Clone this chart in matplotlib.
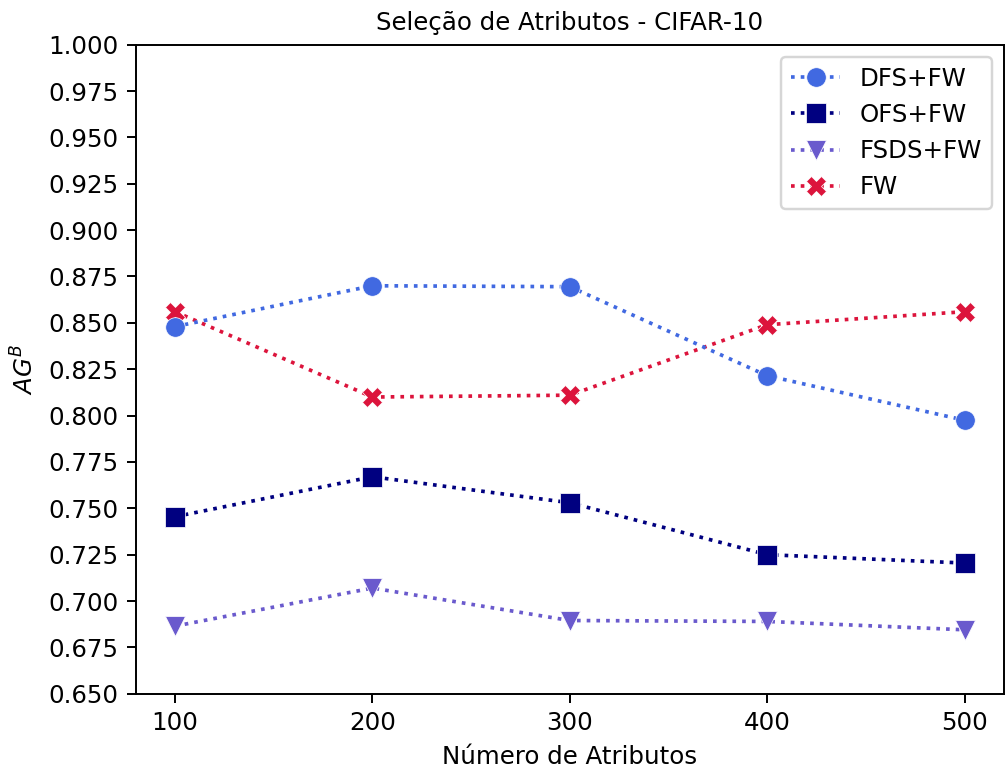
import matplotlib.pyplot as plt

atributos = [100, 200, 300, 400, 500]

dfs_fw = [0.848, 0.870, 0.8695, 0.8215, 0.7975]
ofs_fw = [0.7455, 0.767, 0.753, 0.725, 0.7205]
fsds_fw = [0.6865, 0.707, 0.6895, 0.689, 0.6845]
fw = [0.856, 0.810, 0.811, 0.849, 0.856]

fig = plt.figure(figsize=(1005 / 176, 770 / 176), dpi=176)
ax = fig.add_axes([0.135, 0.099, 0.864, 0.843])

estilo = dict(linestyle=':', lw=1.5, markersize=8, markeredgecolor='white', markeredgewidth=0.3)

# FW fica por baixo dos outros marcadores
ax.plot(atributos, dfs_fw, color='royalblue', marker='o', label='DFS+FW', zorder=4, **estilo)
ax.plot(atributos, ofs_fw, color='navy', marker='s', label='OFS+FW', zorder=4, **estilo)
ax.plot(atributos, fsds_fw, color='slateblue', marker='v', label='FSDS+FW', zorder=4, **estilo)
ax.plot(atributos, fw, color='crimson', marker='X', label='FW', zorder=3, **estilo)

ax.set_ylim(0.65, 1.0)
ax.set_yticks([0.65 + 0.025 * i for i in range(15)])
ax.set_xticks(atributos)
ax.set_xlabel('Número de Atributos')
ax.set_ylabel('$AG^B$')
ax.set_title('Seleção de Atributos - CIFAR-10', fontsize=10)
ax.legend(loc='upper right', handlelength=2.0)

fig.savefig('out.png')
